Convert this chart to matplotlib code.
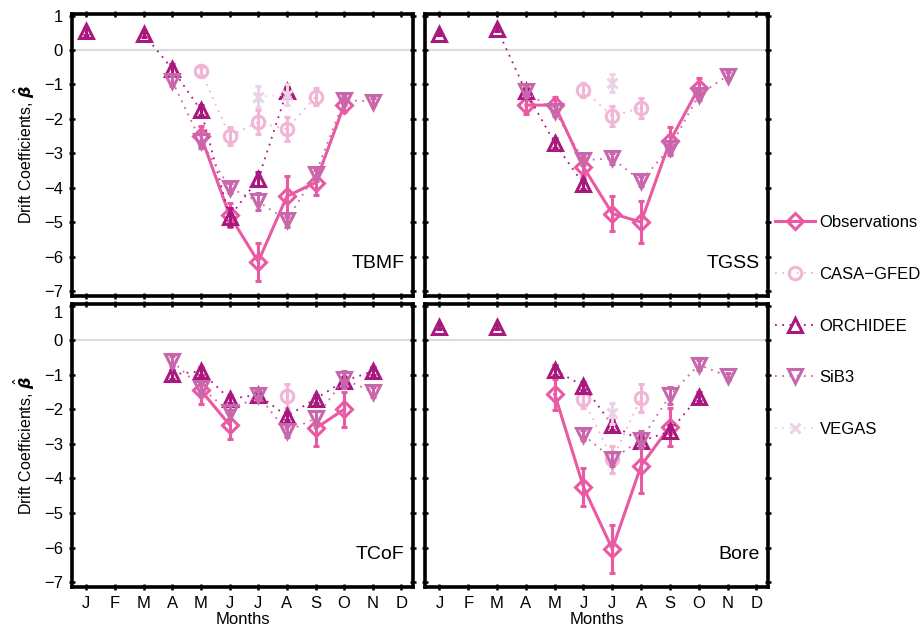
import numpy as np
import matplotlib
matplotlib.use("Agg")
import matplotlib.pyplot as plt

plt.rcParams['font.family'] = ['Liberation Sans', 'DejaVu Sans']
plt.rcParams['mathtext.fontset'] = 'dejavusans'

nan = np.nan

# ========= data =========
MONTHS = ["J", "F", "M", "A", "M", "J", "J", "A", "S", "O", "N", "D"]
SERIES = ["Observations", "CASA\u2212GFED", "ORCHIDEE", "SiB3", "VEGAS"]
REGIONS = ["TBMF", "TGSS", "TCoF", "Bore"]

# TBMF
tbmf_obs       = [nan, nan, nan, nan, -2.50, -4.80, -6.15, -4.25, -3.85, -1.60, nan, nan]
tbmf_obs_err   = [nan, nan, nan, nan, 0.30, 0.35, 0.55, 0.60, 0.35, 0.20, nan, nan]
tbmf_casa      = [nan, nan, nan, nan, -0.60, -2.50, -2.10, -2.30, -1.35, nan, nan, nan]
tbmf_casa_err  = [nan, nan, nan, nan, 0.12, 0.25, 0.35, 0.35, 0.25, nan, nan, nan]
tbmf_orch      = [0.55, nan, 0.47, -0.55, -1.75, -4.85, -3.75, -1.20, nan, nan, nan, nan]
tbmf_orch_err  = [0.10, nan, 0.08, 0.15, 0.15, 0.25, 0.20, 0.12, nan, nan, nan, nan]
tbmf_sib       = [nan, nan, nan, -0.90, -2.65, -4.00, -4.40, -4.95, -3.60, -1.45, -1.50, nan]
tbmf_sib_err   = [nan, nan, nan, 0.15, 0.20, 0.15, 0.25, 0.20, 0.20, 0.15, 0.10, nan]
tbmf_veg       = [nan, nan, nan, nan, nan, nan, -1.35, -1.30, nan, nan, nan, nan]
tbmf_veg_err   = [nan, nan, nan, nan, nan, nan, 0.30, 0.30, nan, nan, nan, nan]

# TGSS
tgss_obs       = [nan, nan, nan, -1.60, -1.60, -3.40, -4.75, -5.00, -2.65, -1.10, nan, nan]
tgss_obs_err   = [nan, nan, nan, 0.25, 0.25, 0.25, 0.50, 0.60, 0.40, 0.30, nan, nan]
tgss_casa      = [nan, nan, nan, nan, nan, -1.15, -1.92, -1.68, nan, nan, nan, nan]
tgss_casa_err  = [nan, nan, nan, nan, nan, 0.20, 0.30, 0.30, nan, nan, nan, nan]
tgss_orch      = [0.48, nan, 0.62, -1.20, -2.70, -3.90, nan, nan, nan, nan, nan, nan]
tgss_orch_err  = [0.05, nan, 0.08, 0.10, 0.15, 0.15, nan, nan, nan, nan, nan, nan]
tgss_sib       = [nan, nan, nan, -1.20, -1.78, -3.20, -3.15, -3.80, -2.85, -1.30, -0.75, nan]
tgss_sib_err   = [nan, nan, nan, 0.15, 0.15, 0.15, 0.15, 0.15, 0.15, 0.15, 0.10, nan]
tgss_veg       = [nan, nan, nan, nan, nan, nan, -0.96, nan, nan, nan, nan, nan]
tgss_veg_err   = [nan, nan, nan, nan, nan, nan, 0.25, nan, nan, nan, nan, nan]

# TCoF
tcof_obs       = [nan, nan, nan, nan, -1.45, -2.45, nan, nan, -2.55, -2.00, nan, nan]
tcof_obs_err   = [nan, nan, nan, nan, 0.40, 0.42, nan, nan, 0.50, 0.50, nan, nan]
tcof_casa      = [nan, nan, nan, nan, nan, nan, nan, -1.62, nan, nan, nan, nan]
tcof_casa_err  = [nan, nan, nan, nan, nan, nan, nan, 0.35, nan, nan, nan, nan]
tcof_orch      = [nan, nan, nan, -0.99, -0.90, -1.70, -1.58, -2.20, -1.70, -1.18, -0.90, nan]
tcof_orch_err  = [nan, nan, nan, 0.12, 0.12, 0.12, 0.12, 0.12, 0.12, 0.12, 0.12, nan]
tcof_sib       = [nan, nan, nan, -0.61, -1.37, -2.07, -1.60, -2.64, -2.26, -1.13, -1.50, nan]
tcof_sib_err   = [nan, nan, nan, 0.15, 0.15, 0.20, 0.12, 0.15, 0.20, 0.25, 0.15, nan]
tcof_veg       = [nan] * 12
tcof_veg_err   = [nan] * 12

# Bore
bore_obs       = [nan, nan, nan, nan, -1.56, -4.25, -6.04, -3.63, -2.50, nan, nan, nan]
bore_obs_err   = [nan, nan, nan, nan, 0.45, 0.55, 0.70, 0.80, 0.55, nan, nan, nan]
bore_casa      = [nan, nan, nan, nan, nan, -1.70, -3.45, -1.67, nan, nan, nan, nan]
bore_casa_err  = [nan, nan, nan, nan, nan, 0.25, 0.40, 0.40, nan, nan, nan, nan]
bore_orch      = [0.38, nan, 0.38, nan, -0.87, -1.32, -2.45, -2.92, -2.64, -1.63, nan, nan]
bore_orch_err  = [0.05, nan, 0.05, nan, 0.15, 0.12, 0.15, 0.15, 0.20, 0.12, nan, nan]
bore_sib       = [nan, nan, nan, nan, nan, -2.74, -3.44, -2.88, -1.60, -0.71, -1.04, nan]
bore_sib_err   = [nan, nan, nan, nan, nan, 0.15, 0.20, 0.25, 0.25, 0.15, 0.10, nan]
bore_veg       = [nan, nan, nan, nan, nan, nan, -2.12, nan, nan, nan, nan, nan]
bore_veg_err   = [nan, nan, nan, nan, nan, nan, 0.30, nan, nan, nan, nan, nan]

panel_data = {
    "TBMF": [(tbmf_obs, tbmf_obs_err), (tbmf_casa, tbmf_casa_err), (tbmf_orch, tbmf_orch_err),
             (tbmf_sib, tbmf_sib_err), (tbmf_veg, tbmf_veg_err)],
    "TGSS": [(tgss_obs, tgss_obs_err), (tgss_casa, tgss_casa_err), (tgss_orch, tgss_orch_err),
             (tgss_sib, tgss_sib_err), (tgss_veg, tgss_veg_err)],
    "TCoF": [(tcof_obs, tcof_obs_err), (tcof_casa, tcof_casa_err), (tcof_orch, tcof_orch_err),
             (tcof_sib, tcof_sib_err), (tcof_veg, tcof_veg_err)],
    "Bore": [(bore_obs, bore_obs_err), (bore_casa, bore_casa_err), (bore_orch, bore_orch_err),
             (bore_sib, bore_sib_err), (bore_veg, bore_veg_err)],
}

# ========= styles =========
colors  = ["#EA5AA3", "#F2B5D6", "#A8187E", "#C967AC", "#EBD3E5"]
markers = ["D", "o", "^", "v", "x"]
msizes  = [8, 9, 10, 10, 7]
lstyles = ["-", (0, (1, 3)), (0, (1, 3)), (0, (1, 3)), (0, (1, 3))]
lwidths = [2.2, 1.3, 1.3, 1.3, 1.3]

# ========= figure =========
fig = plt.figure(figsize=(9.24, 6.32), dpi=100)
positions = [
    [0.0779, 0.532, 0.369, 0.446],
    [0.4600, 0.532, 0.371, 0.446],
    [0.0779, 0.0712, 0.369, 0.448],
    [0.4600, 0.0712, 0.371, 0.448],
]
x = np.arange(1, 13)

for i, name in enumerate(REGIONS):
    ax = fig.add_axes(positions[i])
    ax.axhline(0, color="#dcdcdc", lw=1.6, zorder=0)
    for k, (vals, errs) in enumerate(panel_data[name]):
        vals = np.array(vals, dtype=float)
        errs = np.array(errs, dtype=float)
        ax.errorbar(x, vals, yerr=errs, fmt="none", ecolor=colors[k],
                    elinewidth=2.2, capsize=2.5, capthick=2.2, zorder=2 + k)
        ax.plot(x, vals, linestyle=lstyles[k], color=colors[k], lw=lwidths[k],
                marker=markers[k], ms=msizes[k], mfc="none", mec=colors[k],
                mew=2.2, label=SERIES[k], zorder=2 + k)
    ax.set_xlim(0.5, 12.4)
    ax.set_ylim(-7.14, 1.05)
    ax.set_yticks(range(-7, 2))
    ax.set_yticklabels([str(v).replace("-", "\u2212") for v in range(-7, 2)])
    ax.set_xticks(x)
    ax.set_xticklabels(MONTHS)
    ax.tick_params(direction="inout", length=5, width=1.8, top=True, right=True,
                   labelsize=12, pad=4)
    for sp in ax.spines.values():
        sp.set_linewidth(2.6)
    if i % 2 == 1:
        ax.tick_params(labelleft=False)
    else:
        ax.set_ylabel(r"Drift Coefficients, $\hat{\boldsymbol{\beta}}$", fontsize=11.5,
                      labelpad=5)
    if i < 2:
        ax.tick_params(labelbottom=False)
    else:
        ax.set_xlabel("Months", fontsize=12, labelpad=1)
        if i == 2:
            # top label sits just under the panel edge, as in the original
            ax.get_yticklabels()[-1].set_va("top")
    ax.text(0.975, 0.115, name, transform=ax.transAxes, ha="right", va="center",
            fontsize=14)
    if i == 0:
        handles, labels = ax.get_legend_handles_labels()

fig.legend(handles, labels, loc="center left", bbox_to_anchor=(0.822, 0.484),
           frameon=False, fontsize=12, labelspacing=2.2, handlelength=2.4,
           handletextpad=0.3)

plt.savefig("out.png", dpi=100)
